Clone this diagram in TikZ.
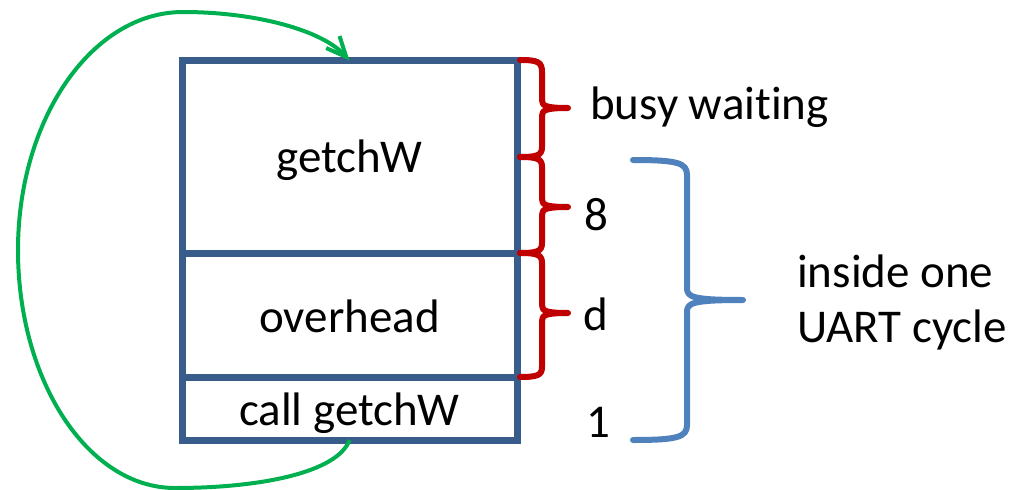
\documentclass[tikz,border=0pt]{standalone}
\usepackage{fontspec}
\setmainfont{Carlito}[Ligatures={NoCommon}]
\usetikzlibrary{arrows.meta}
\definecolor{boxblue}{HTML}{385D8A}
\definecolor{bracered}{HTML}{C00000}
\definecolor{braceblue}{HTML}{4F81BD}
\definecolor{loopgreen}{HTML}{00B050}
\tikzset{
  block/.style={draw=boxblue, line width=7pt, minimum width=335pt, inner sep=0pt, outer sep=0pt},
  lbl/.style={font=\fontsize{47}{56}\selectfont, inner sep=0pt, text=black},
  redbrace/.style={draw=bracered, line width=6pt, line cap=round, line join=round},
  bluebrace/.style={draw=braceblue, line width=6pt, line cap=round, line join=round},
  loop/.style={draw=loopgreen, line width=4pt, -{Straight Barb[length=20pt,width=18pt,line width=4pt]}}
}
\begin{document}
\begin{tikzpicture}[x=1pt,y=1pt]
\useasboundingbox (0,0) rectangle (1013,-490);
% boxes
\node[block, minimum height=192.5pt] (gw) at (349.5,-156.75) {};
\node[block, minimum height=124pt] (ov) at (349.5,-315) {};
\node[block, minimum height=63pt] (cg) at (349.5,-408.5) {};
% box labels
\node[lbl, anchor=base] (tgw) at (349.5,-172) {getchW};
\node[lbl, anchor=base] (tov) at (349.5,-332) {overhead};
\node[lbl, anchor=base] (tcg) at (349.5,-425) {call getchW};
% red braces
\draw[redbrace] (520,-60) .. controls (538,-60) and (542,-62) .. (542,-72)
  -- (542,-100) .. controls (542,-106) and (546,-108) .. (568,-108)
  .. controls (546,-108) and (542,-110) .. (542,-116)
  -- (542,-147) .. controls (542,-155) and (538,-157) .. (520,-157);
\draw[redbrace] (520,-157) .. controls (538,-157) and (542,-159) .. (542,-167)
  -- (542,-199) .. controls (542,-205) and (546,-207) .. (568,-207)
  .. controls (546,-207) and (542,-209) .. (542,-215)
  -- (542,-243) .. controls (542,-251) and (538,-253) .. (520,-253);
\draw[redbrace] (520,-253) .. controls (538,-253) and (542,-255) .. (542,-263)
  -- (542,-305) .. controls (542,-311) and (546,-313) .. (568,-313)
  .. controls (546,-313) and (542,-315) .. (542,-321)
  -- (542,-367) .. controls (542,-375) and (538,-377) .. (520,-377);
% blue brace
\draw[bluebrace] (633,-160) .. controls (678,-160) and (687,-163) .. (687,-175)
  -- (687,-288) .. controls (687,-297) and (692,-300) .. (743,-300)
  .. controls (692,-300) and (687,-303) .. (687,-312)
  -- (687,-425) .. controls (687,-437) and (678,-440) .. (633,-440);
% right labels
\node[lbl, anchor=base west] (busy) at (590,-119) {busy waiting};
\node[lbl, anchor=base] (n8) at (596,-230) {8};
\node[lbl, anchor=base] (nd) at (596,-330) {d};
\node[lbl, anchor=base] (n1) at (598,-437) {1};
\node[lbl, anchor=base west] (in1) at (797,-287) {inside one};
\node[lbl, anchor=base west] (in2) at (797,-342) {UART cycle};
% green loop arrow
\coordinate (lb) at (175,-488);
\coordinate (ll) at (18,-250);
\coordinate (lt) at (183,-12);
\draw[loop] (cg.south) .. controls (338,-472) and (262,-488) .. (lb)
  .. controls (88,-488) and (18,-381) .. (ll)
  .. controls (18,-119) and (92,-12) .. (lt)
  .. controls (255,-12) and (322,-30) .. (gw.north);
\end{tikzpicture}
\end{document}
